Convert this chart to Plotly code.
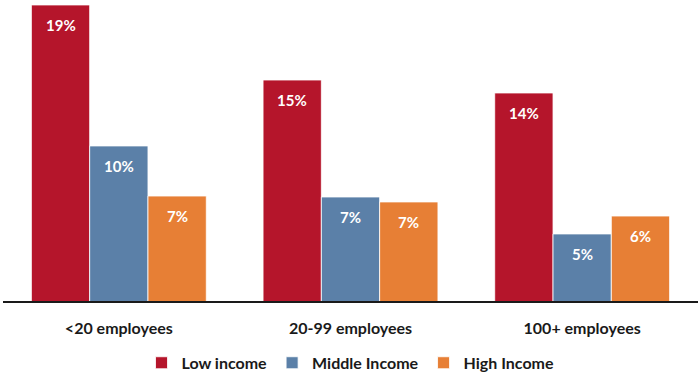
import plotly.graph_objects as go

# Share of workers by employer size and income group (%)
categories = ["<20 employees", "20-99 employees", "100+ employees"]
series_names = ["Low income", "Middle Income", "High Income"]
low_income = [19.25, 14.56, 13.75]
middle_income = [10.44, 7.25, 4.94]
high_income = [7.31, 6.94, 6.06]
colors = ["#B5152B", "#5B80A8", "#E77F35"]

values = [low_income, middle_income, high_income]
x_pos = list(range(len(categories)))
bargap = 0.245
bar_w = (1 - bargap) / len(values)

font_family = "Lato, 'Open Sans', Arial, sans-serif"

fig = go.Figure()
for name, vals, color in zip(series_names, values, colors):
    fig.add_trace(go.Bar(
        x=x_pos,
        y=vals,
        name=name,
        marker=dict(color=color, line=dict(color="rgba(255,255,255,0.8)", width=1)),
        hoverinfo="skip",
    ))

# Value labels just inside the top of each bar
annotations = []
for j, vals in enumerate(values):
    offset = (j - (len(values) - 1) / 2) * bar_w
    for i, v in enumerate(vals):
        annotations.append(dict(
            x=x_pos[i] + offset, y=v, xref="x", yref="y",
            text=f"<b>{v:.0f}%</b>", showarrow=False,
            yanchor="middle", yshift=-20,
            font=dict(family=font_family, size=15, color="white"),
        ))

fig.update_layout(
    width=700, height=376,
    margin=dict(l=3, r=2, t=0, b=75),
    paper_bgcolor="white", plot_bgcolor="white",
    barmode="group", bargap=bargap, bargroupgap=0,
    font=dict(family=font_family, size=16, color="#1a1a1a"),
    showlegend=True,
    legend=dict(
        orientation="h", x=0.5, xanchor="center",
        yref="container", y=0.035, yanchor="middle",
        font=dict(family=font_family, size=16, color="#1a1a1a", weight="bold"),
        itemwidth=30, tracegroupgap=0,
    ),
    annotations=annotations,
)
fig.update_xaxes(
    tickmode="array", tickvals=x_pos,
    ticktext=[f"<b>{c}</b>" for c in categories],
    range=[-0.5, len(categories) - 0.5],
    showline=True, linecolor="#1a1a1a", linewidth=1.5,
    showgrid=False, zeroline=False, ticks="",
    ticklabelstandoff=12,
    tickfont=dict(family=font_family, size=16, color="#1a1a1a"),
)
fig.update_yaxes(
    range=[0.75, 19.56], visible=False, showgrid=False, zeroline=False,
)

fig.write_html("out.html")
